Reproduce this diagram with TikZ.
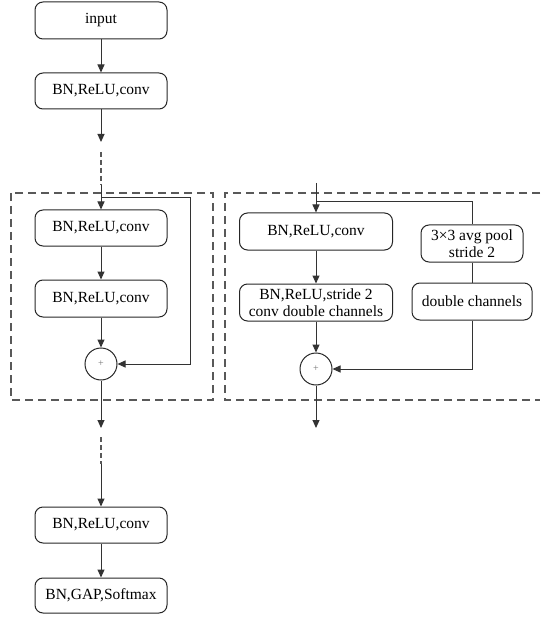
\documentclass[tikz,border=0pt]{standalone}
\usepackage{fontspec}
\setmainfont{Liberation Serif}
\usetikzlibrary{arrows.meta}
\begin{document}
\begin{tikzpicture}[x=1pt,y=-1pt,
  blk/.style={draw=black!85, rounded corners=8pt, line width=1pt, font=\fontsize{15.5}{17}\selectfont, align=center, inner sep=0pt, text=black},
  plus/.style={draw=black!85, circle, minimum size=32pt, inner sep=0pt, line width=1pt, font=\fontsize{10}{10}\selectfont, text=black!55},
  wire/.style={draw=black!80, line width=1pt},
  arr/.style={wire, -{Triangle[length=8pt,width=7pt]}},
  dotline/.style={draw=black!65, line width=1.1pt, dash pattern=on 5pt off 3pt},
  dashrect/.style={draw=black!65, line width=1.1pt, dash pattern=on 8pt off 5pt}]
\useasboundingbox (0,0) rectangle (540,617);

% dashed frames
\draw[dashrect] (11,193) rectangle (213,400);
\draw[dashrect] (540,193) -- (225,193) -- (225,400) -- (540,400);

% left column
\node[blk, minimum width=132pt, minimum height=37pt] (in) at (101,20.5) {input};
\node[blk, minimum width=132pt, minimum height=36pt] (c1) at (101,91) {BN,ReLU,conv};
\node[blk, minimum width=132pt, minimum height=36pt] (b1) at (101,228) {BN,ReLU,conv};
\node[blk, minimum width=132pt, minimum height=37pt] (b2) at (101,298.5) {BN,ReLU,conv};
\node[plus] (p1) at (101,364) {+};
\node[blk, minimum width=132pt, minimum height=36pt] (c2) at (101,525) {BN,ReLU,conv};
\node[blk, minimum width=132pt, minimum height=35pt] (c3) at (101,595.5) {BN,GAP,Softmax};

\coordinate (a1) at (101,142);
\coordinate (d1s) at (101,152);
\coordinate (d1e) at (101,185);
\coordinate (br1) at (101,198);
\coordinate (k1) at (190,198);
\coordinate (k2) at (190,364);
\coordinate (a2) at (101,428);
\coordinate (d2s) at (101,437);
\coordinate (d2e) at (101,464);

\draw[arr] (in) -- (c1);
\draw[arr] (c1) -- (a1);
\draw[dotline] (d1s) -- (d1e);
\draw[arr] (d1e) -- (b1);
\draw[arr] (br1) -- (k1) -- (k2) -- (p1);
\draw[arr] (b1) -- (b2);
\draw[arr] (b2) -- (p1);
\draw[arr] (p1) -- (a2);
\draw[dotline] (d2s) -- (d2e);
\draw[arr] (d2e) -- (c2);
\draw[arr] (c2) -- (c3);

% right block
\node[blk, minimum width=153pt, minimum height=37pt] (r1) at (316,231.5) {BN,ReLU,conv};
\node[blk, minimum width=153pt, minimum height=37pt, font=\fontsize{15.5}{16.5}\selectfont] (r2) at (316,302.5) {BN,ReLU,stride 2\\conv double channels};
\node[blk, minimum width=102pt, minimum height=37pt, font=\fontsize{15.5}{16.5}\selectfont] (pool) at (472,243.5) {3\texttimes3 avg pool\\stride 2};
\node[blk, minimum width=120pt, minimum height=37pt] (dbl) at (472,301.5) {double channels};
\node[plus] (p2) at (316,369) {+};

\coordinate (rs) at (316,183);
\coordinate (br2) at (316,202);
\coordinate (k3) at (472,202);
\coordinate (k4) at (472,369);
\coordinate (a3) at (316,428);

\draw[arr] (rs) -- (r1);
\draw[wire] (br2) -- (k3) -- (pool);
\draw[wire] (pool) -- (dbl);
\draw[arr] (dbl) -- (k4) -- (p2);
\draw[arr] (r1) -- (r2);
\draw[arr] (r2) -- (p2);
\draw[arr] (p2) -- (a3);
\end{tikzpicture}
\end{document}
